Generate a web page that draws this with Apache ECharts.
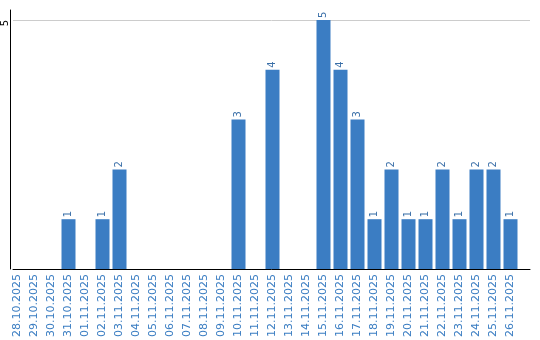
<!DOCTYPE html>
<html><head><meta charset="utf-8">
<script src="https://cdn.jsdelivr.net/npm/echarts@6/dist/echarts.min.js"></script>
<style>html,body{margin:0;padding:0;background:#fff}#c{width:540px;height:340px}</style>
</head><body><div id="c"></div>
<script>
const categories = ["28.10.2025","29.10.2025","30.10.2025","31.10.2025","01.11.2025","02.11.2025","03.11.2025","04.11.2025","05.11.2025","06.11.2025","07.11.2025","08.11.2025","09.11.2025","10.11.2025","11.11.2025","12.11.2025","13.11.2025","14.11.2025","15.11.2025","16.11.2025","17.11.2025","18.11.2025","19.11.2025","20.11.2025","21.11.2025","22.11.2025","23.11.2025","24.11.2025","25.11.2025","26.11.2025"];
const values = [0,0,0,1,0,1,2,0,0,0,0,0,0,3,0,4,0,0,5,4,3,1,2,1,1,2,1,2,2,1];
const yMax = 5;

const chart = echarts.init(document.getElementById('c'), null, {renderer:'canvas'});
chart.setOption({
  animation:false,
  textStyle:{fontFamily:'DejaVu Sans'},
  grid:[
    {left:9, width:510, top:20, bottom:71},
    {left:10, right:10, top:20, bottom:71},
    {left:10, right:10, top:10, bottom:71}
  ],
  xAxis:[
    {gridIndex:0, type:'category', data:categories,
     axisLine:{show:false}, axisTick:{show:false},
     axisLabel:{rotate:90, interval:0, color:'#3a7dc2', fontSize:11, fontFamily:'DejaVu Sans', margin:5}},
    {gridIndex:1, type:'value', min:0, max:1,
     axisLine:{show:true, lineStyle:{color:'#000', width:1}}, axisTick:{show:false},
     axisLabel:{show:false}, splitLine:{show:false}},
    {gridIndex:2, type:'value', min:0, max:1, show:false}
  ],
  yAxis:[
    {gridIndex:0, type:'value', min:0, max:yMax, show:false},
    {gridIndex:1, type:'value', min:0, max:yMax, interval:5,
     axisLine:{show:false}, axisTick:{show:false},
     axisLabel:{rotate:90, align:'right', color:'#000', fontSize:10, margin:3, formatter:v=>v===0?'':v},
     splitLine:{show:true, lineStyle:{color:'#cccccc', width:1}}},
    {gridIndex:2, type:'value', min:0, max:1,
     axisLine:{show:true, lineStyle:{color:'#000', width:1}}, axisTick:{show:false},
     axisLabel:{show:false}, splitLine:{show:false}}
  ],
  series:[{
    type:'bar', xAxisIndex:0, yAxisIndex:0, data:values, barWidth:14,
    itemStyle:{color:'#3b7dc3'},
    label:{show:true, position:'top', rotate:90, align:'left', verticalAlign:'middle', distance:2,
      color:'#3a6fa8', fontSize:10, formatter:p=>p.value===0?'':p.value}
  }]
});
</script></body></html>
